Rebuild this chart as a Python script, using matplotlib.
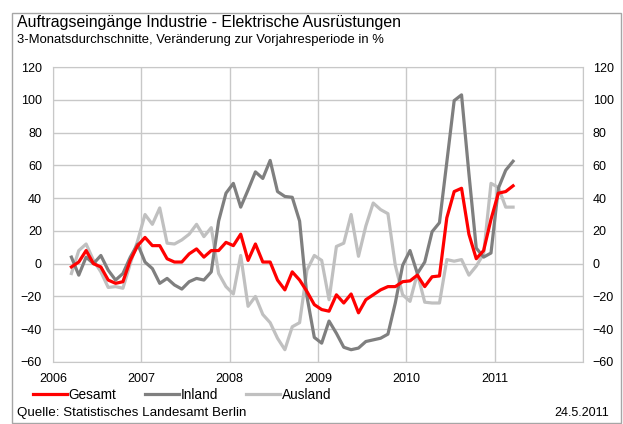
import numpy as np
import pandas as pd
import matplotlib
matplotlib.use('Agg')
import matplotlib.pyplot as plt
from matplotlib.patches import Rectangle

plt.rcParams['font.family'] = ['Liberation Sans', 'DejaVu Sans']

# Monatswerte März 2006 bis März 2011 (3-Monatsdurchschnitte, % zum Vorjahr)
months = pd.period_range('2006-03', '2011-03', freq='M')

gesamt = [-2, 1, 8, 0, -2, -10, -12, -11, 2, 11,
          16, 11, 11, 3, 1, 1, 6, 9, 4, 8, 8, 13,
          11, 18, 2, 12, 1, 1, -10, -16, -5, -10, -17, -25,
          -28, -29, -19, -24, -18.5, -30, -22, -19, -16, -14, -14, -11,
          -10.5, -7, -14, -8, -7.5, 28, 44, 46, 18, 3, 8, 27,
          43, 44, 47.5]

inland = [4, -7, 4, 0, 5, -4, -10, -6, 4, 12,
          1, -3, -12, -9, -13, -15.5, -11, -9, -10, -5, 26, 43,
          49, 34.5, 45, 56, 52, 63, 44, 41, 40.5, 26, -20, -45,
          -48.5, -35, -42.5, -51, -52.5, -51.5, -47.5, -46.5, -45.5, -43, -24, -1,
          8, -6, 1, 19.5, 25, 62, 99.5, 103, 55, 9.5, 4, 6.5,
          46, 57, 62.5]

ausland = [-6, 8, 12, 2, -5, -14.5, -14, -15, 0, 14,
           30, 24, 34, 12.5, 12, 14.5, 18, 24, 16.5, 22, -6, -14,
           -18.5, 5, -26, -20, -31, -36, -45.5, -52.5, -38.5, -36, -4, 5,
           2, -22, 10.5, 12.5, 30, 4.5, 23, 37, 33, 30.5, -1, -19,
           -23, -6, -23.5, -24, -24, 2.5, 1.5, 2.5, -7, -1.5, 6, 49,
           46.5, 34.5, 34.5]

years = [2006, 2007, 2008, 2009, 2010, 2011]

# Monatsmitte als Dezimaljahr
x = np.array([p.year + (p.month - 0.5) / 12 for p in months])

grid_col = '#c8c8c8'

fig = plt.figure(figsize=(6.23, 4.24), dpi=100)
ax = fig.add_axes([53 / 623, 1 - 362 / 424, 530 / 623, 295 / 424])

ax.plot(x, ausland, color='#c0c0c0', lw=2.3, label='Ausland', zorder=3)
ax.plot(x, inland, color='#7f7f7f', lw=2.3, label='Inland', zorder=3)
ax.plot(x, gesamt, color='#ff0000', lw=2.3, label='Gesamt', zorder=4)

ax.set_xlim(2006, 2012)
ax.set_ylim(-60, 120)
ax.set_xticks(list(range(2006, 2013)))
ax.set_xticklabels([str(y) for y in years] + [''])
ax.set_yticks(range(-60, 121, 20))
ax.grid(True, color=grid_col, lw=1)
ax.set_axisbelow(True)
for s in ax.spines.values():
    s.set_color(grid_col)
ax.tick_params(length=0, labelsize=9)
ax.tick_params(axis='x', pad=8)
ax.tick_params(axis='y', pad=8)

ax2 = ax.twinx()
ax2.set_ylim(-60, 120)
ax2.set_yticks(range(-60, 121, 20))
ax2.tick_params(length=0, labelsize=9, pad=7)
for s in ax2.spines.values():
    s.set_visible(False)

# Titel
fig.text(17 / 623, 1 - 22 / 424, 'Auftragseingänge Industrie - Elektrische Ausrüstungen',
         fontsize=11.4, va='center', ha='left')
fig.text(17 / 623, 1 - 40 / 424, '3-Monatsdurchschnitte, Veränderung zur Vorjahresperiode in %',
         fontsize=9.4, va='center', ha='left')

# Legende
h, l = ax.get_legend_handles_labels()
order = [2, 1, 0]
fig.legend([h[i] for i in order], [l[i] for i in order], loc='center left',
           bbox_to_anchor=(21 / 623, 1 - 395 / 424), ncol=3, frameon=False,
           fontsize=9.8, handlelength=2.5, handletextpad=0.1, columnspacing=2.1)

fig.text(17 / 623, 1 - 413 / 424, 'Quelle: Statistisches Landesamt Berlin',
         fontsize=9.6, va='center', ha='left')
fig.text(609 / 623, 1 - 413 / 424, '24.5.2011', fontsize=9, va='center', ha='right')

# Rahmen
fig.patches.append(Rectangle((12 / 623, 1 / 424), 609 / 623, 410 / 424,
                             transform=fig.transFigure, fill=False,
                             edgecolor='#a6a6a6', lw=1))

fig.savefig('out.png', dpi=100)
